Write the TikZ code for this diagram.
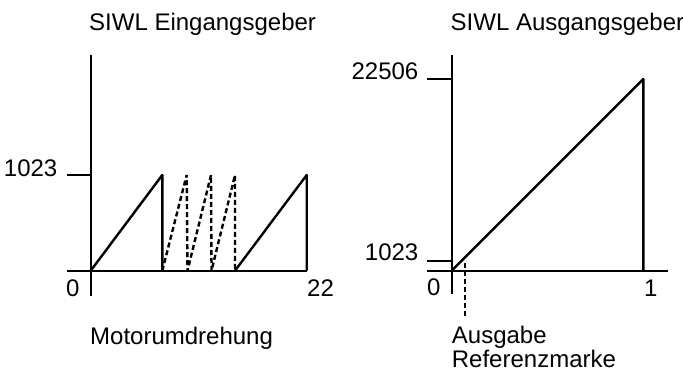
\documentclass[tikz,border=0pt]{standalone}
\usepackage{fontspec}
\setmainfont{Liberation Sans}
\begin{document}
\begin{tikzpicture}[x=1pt,y=-1pt,
  axis/.style={line width=2.4pt},
  curve/.style={line width=2.4pt,line join=round},
  dashcurve/.style={line width=2.4pt,line join=bevel,dash pattern=on 5pt off 3pt},
  lbl/.style={inner sep=0pt,font=\fontsize{24}{28}\selectfont}]
\useasboundingbox (0,0) rectangle (683,373);
% ---------- left chart ----------
\coordinate (LyTop) at (90.7,55);
\coordinate (LyBot) at (90.7,296);
\coordinate (LxL) at (66.7,270.7);
\coordinate (LxR) at (306.7,270.7);
\coordinate (LtL) at (66.7,175);
\coordinate (LtR) at (90.7,175);
\draw[axis] (LyTop) -- (LyBot);
\draw[axis] (LxL) -- (LxR);
\draw[axis] (LtL) -- (LtR);
\coordinate (O) at (90.7,270.7);
\coordinate (A1) at (162.3,175);
\coordinate (A2) at (162.3,270.7);
\coordinate (B1) at (186.7,175);
\coordinate (B2) at (187.5,270.7);
\coordinate (C1) at (211,175);
\coordinate (C2) at (211.5,270.7);
\coordinate (D1) at (235,175);
\coordinate (D2) at (235,270.7);
\coordinate (E1) at (306.7,175);
\coordinate (E2) at (306.7,270.7);
\draw[curve] (O) -- (A1) -- (A2);
\draw[dashcurve] (A2) -- (B1) -- (B2) -- (C1) -- (C2) -- (D1) -- (D2);
\draw[curve] (D2) -- (E1) -- (E2);
\node[lbl,anchor=base west] (t1) at (89,30.7) {SIWL Eingangsgeber};
\node[lbl,anchor=base east] (l1023) at (57.5,176) {1023};
\node[lbl,anchor=base west] (l0) at (66,296) {0};
\node[lbl,anchor=base west] (l22) at (307,296) {22};
\node[lbl,anchor=base west] (lmot) at (90,344) {Motorumdrehung};
% ---------- right chart ----------
\coordinate (RyTop) at (451.7,55);
\coordinate (RyBot) at (451.7,294);
\coordinate (RxL) at (427.3,270.7);
\coordinate (RxR) at (668.3,270.7);
\coordinate (RtaL) at (427.3,79);
\coordinate (RtaR) at (451.7,79);
\coordinate (RtbL) at (427.3,260.7);
\coordinate (RtbR) at (451.7,260.7);
\draw[axis] (RyTop) -- (RyBot);
\draw[axis] (RxL) -- (RxR);
\draw[axis] (RtaL) -- (RtaR);
\draw[axis] (RtbL) -- (RtbR);
\coordinate (RO) at (451.7,270.7);
\coordinate (RP) at (643.3,79);
\coordinate (RQ) at (643.3,270.7);
\draw[curve] (RO) -- (RP) -- (RQ);
\coordinate (M1) at (465,262.5);
\coordinate (M2) at (465,318);
\draw[dashcurve] (M1) -- (M2);
\node[lbl,anchor=base west] (t2) at (450.5,30.7) {SIWL Ausgangsgeber};
\node[lbl,anchor=base east] (r22506) at (418.5,79) {22506};
\node[lbl,anchor=base east] (r1023) at (418.5,260.7) {1023};
\node[lbl,anchor=base west] (r0) at (427,295) {0};
\node[lbl,anchor=base west] (r1) at (644,296) {1};
\node[lbl,anchor=base west] (ra) at (451.7,343) {Ausgabe};
\node[lbl,anchor=base west] (rb) at (451.7,367) {Referenzmarke};
\end{tikzpicture}
\end{document}
